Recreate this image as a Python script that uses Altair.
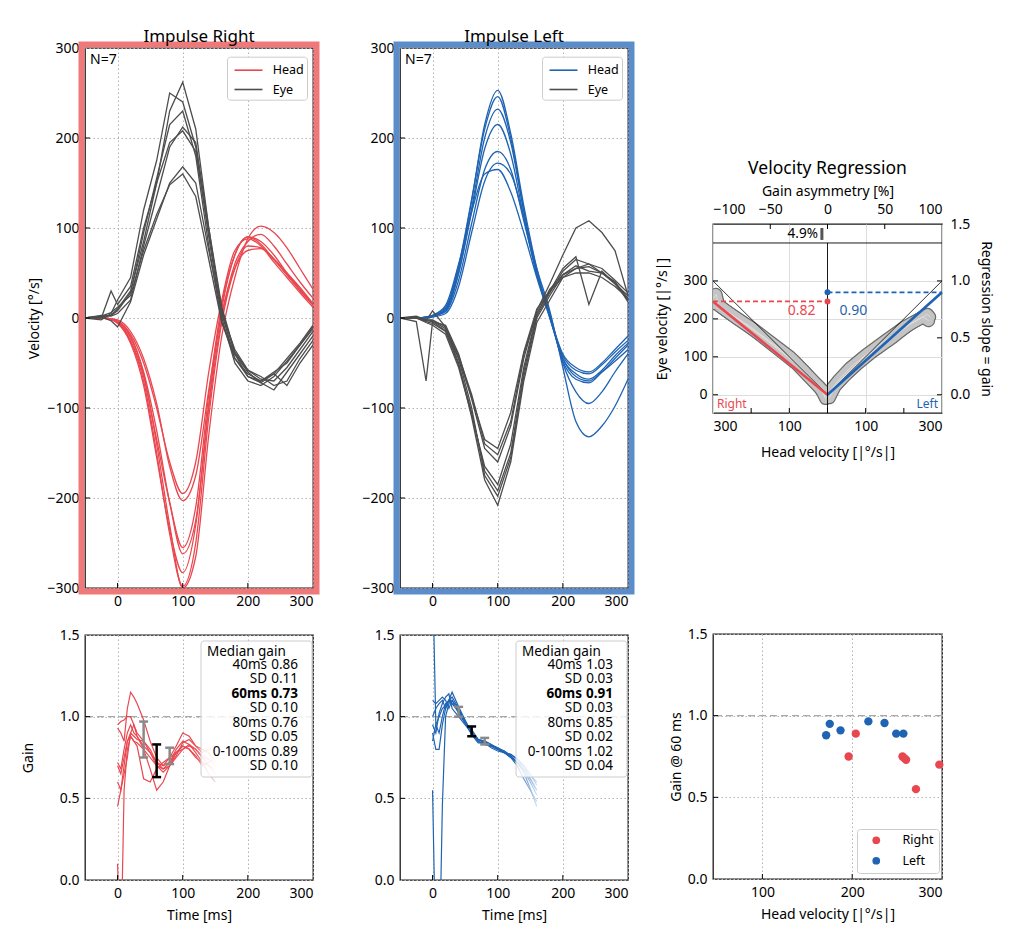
import altair as alt
import pandas as pd

# ---------------- data ----------------
T = [-50, -25, -10, 0, 20, 40, 60, 80, 100, 120, 140, 160, 180, 200, 220, 240, 260, 280, 300]

HEAD_R = [
    [0, 0, -1, -3, -18, -50, -100, -160, -195, -160, -60, 20, 75, 88, 80, 62, 45, 28, 12],
    [0, 0, -1, -2, -15, -45, -95, -165, -203, -175, -80, 5, 55, 75, 77, 65, 48, 30, 15],
    [0, 0, -1, -5, -25, -65, -135, -205, -255, -210, -85, 15, 70, 90, 82, 65, 48, 32, 15],
    [0, 0, -1, -4, -20, -60, -125, -205, -262, -225, -100, 0, 60, 85, 93, 80, 60, 40, 22],
    [0, 0, -2, -6, -28, -75, -155, -235, -283, -230, -95, 10, 70, 90, 85, 70, 50, 32, 14],
    [0, 0, -1, -5, -26, -70, -150, -240, -298, -250, -110, -5, 55, 80, 78, 66, 50, 34, 16],
    [0, 0, -1, -4, -22, -62, -140, -230, -300, -265, -130, -20, 45, 88, 102, 95, 78, 55, 32],
]
EYE_R = [
    [0, 2, 3, 10, 30, 85, 150, 230, 262, 210, 100, 5, -45, -65, -72, -62, -45, -28, -8],
    [0, -2, 5, 20, 45, 120, 175, 250, 240, 190, 90, 0, -50, -70, -75, -65, -48, -30, -10],
    [0, 1, 3, 8, 28, 95, 155, 215, 230, 180, 80, -5, -45, -62, -70, -60, -50, -30, -12],
    [0, 3, 2, 5, 20, 80, 135, 190, 212, 195, 100, 12, -38, -58, -68, -70, -55, -35, -15],
    [0, 0, 30, 15, 35, 100, 150, 195, 208, 185, 95, 10, -40, -60, -72, -80, -60, -40, -20],
    [0, 1, -3, -10, 18, 70, 110, 150, 168, 150, 75, 5, -35, -58, -65, -75, -70, -45, -25],
    [0, 2, 6, 12, 25, 75, 115, 148, 160, 135, 65, -5, -40, -65, -70, -62, -75, -50, -30],
]
HEAD_L = [
    [0, 0, 1, 2, 10, 55, 130, 215, 253, 205, 125, 55, 2, -40, -55, -60, -50, -35, -20],
    [0, 0, 1, 3, 12, 58, 132, 210, 246, 200, 120, 50, 0, -42, -58, -62, -52, -38, -25],
    [0, 0, 1, 2, 8, 50, 122, 200, 232, 195, 118, 50, 3, -45, -62, -68, -58, -42, -28],
    [0, 0, 1, 2, 10, 50, 118, 188, 215, 182, 112, 48, 2, -48, -68, -72, -60, -45, -30],
    [0, 0, 0, 2, 7, 42, 105, 165, 185, 165, 108, 50, 5, -50, -82, -95, -82, -60, -40],
    [0, 0, 0, 1, 5, 35, 95, 152, 172, 160, 112, 55, 8, -55, -115, -132, -120, -98, -68],
    [0, 0, 1, 3, 14, 60, 118, 160, 165, 140, 95, 45, 0, -45, -65, -70, -60, -48, -35],
]
EYE_L = [
    [0, 0, -2, -3, -12, -50, -110, -180, -208, -160, -70, -5, 20, 45, 55, 60, 50, 40, 22],
    [0, 2, -2, -2, -10, -45, -100, -175, -198, -155, -65, 0, 25, 48, 58, 52, 50, 38, 25],
    [0, 1, -4, -6, -15, -52, -105, -170, -192, -150, -60, 2, 28, 52, 65, 60, 55, 42, 28],
    [0, 0, -5, -8, -18, -55, -108, -165, -185, -140, -55, 5, 30, 55, 68, 15, 52, 38, 20],
    [0, 1, -3, -4, -8, -40, -90, -145, -160, -120, -45, 8, 38, 70, 100, 108, 95, 75, 25],
    [0, 0, -3, 8, -10, -42, -85, -140, -152, -115, -40, 5, 32, 48, 55, 57, 50, 40, 18],
    [0, -4, -70, -4, -14, -45, -88, -135, -145, -105, -38, 10, 30, 45, 50, 50, 45, 35, 22],
]

TG_R = [0, 5, 10, 15, 20, 25, 30, 40, 50, 60, 70, 80, 90, 100, 110, 120, 130, 140, 150]
GAIN_R = [
    [0.95, 0.97, 0.98, 1.0, 1.0, 0.95, 0.9, 0.85, 0.8, 0.72, 0.7, 0.75, 0.82, 0.9, 0.88, 0.82, 0.78, 0.8, 0.82],
    [0.93, 0.9, 0.85, 1.05, 1.15, 1.12, 1.08, 0.98, 0.85, 0.75, 0.7, 0.72, 0.8, 0.85, 0.83, 0.78, 0.72, 0.65, 0.6],
    [0.72, 0.68, 0.8, 0.9, 0.95, 0.9, 0.88, 0.8, 0.68, 0.55, 0.6, 0.7, 0.78, 0.82, 0.8, 0.76, 0.7, 0.72, 0.75],
    [0.6, 0.55, 0.7, 0.85, 0.88, 0.85, 0.82, 0.62, 0.6, 0.68, 0.72, 0.75, 0.78, 0.8, 0.82, 0.8, 0.75, 0.7, 0.68],
    [0.45, 0.55, 0.65, 0.75, 0.9, 0.95, 0.88, 0.82, 0.78, 0.72, 0.68, 0.7, 0.75, 0.8, 0.83, 0.8, 0.76, 0.74, 0.7],
    [0.1, -0.5, 0.55, 0.8, 0.88, 0.85, 0.84, 0.8, 0.75, 0.7, 0.68, 0.72, 0.78, 0.82, 0.8, 0.75, 0.72, 0.7, 0.65],
    [0.7, 0.65, 0.75, 0.85, 0.9, 0.88, 0.86, 0.85, 0.78, 0.7, 0.66, 0.7, 0.76, 0.84, 0.86, 0.82, 0.8, 0.78, 0.72],
]
TG_L = [0, 5, 10, 15, 20, 25, 30, 40, 50, 60, 70, 80, 90, 100, 110, 120, 130, 140, 150, 160]
GAIN_L = [
    [1.9, 0.95, 0.9, 1.0, 1.08, 1.1, 1.08, 1.03, 0.97, 0.9, 0.86, 0.84, 0.82, 0.8, 0.78, 0.76, 0.72, 0.68, 0.62, 0.55],
    [0.55, -0.5, -0.6, 0.45, 1.0, 1.08, 1.1, 1.05, 0.97, 0.9, 0.86, 0.84, 0.82, 0.8, 0.78, 0.75, 0.7, 0.62, 0.55, 0.48],
    [0.9, 0.8, 0.8, 0.95, 1.05, 1.1, 1.12, 1.05, 0.97, 0.91, 0.86, 0.85, 0.83, 0.81, 0.79, 0.76, 0.72, 0.7, 0.65, 0.58],
    [1.0, 1.05, 1.08, 1.1, 1.05, 1.1, 1.15, 1.06, 0.98, 0.9, 0.85, 0.83, 0.82, 0.81, 0.78, 0.77, 0.74, 0.7, 0.62, 0.55],
    [1.1, 1.08, 1.1, 1.12, 1.1, 1.05, 1.1, 1.02, 0.96, 0.89, 0.84, 0.84, 0.81, 0.79, 0.78, 0.75, 0.72, 0.66, 0.56, 0.45],
    [0.95, 0.9, 1.02, 1.08, 1.12, 1.14, 1.05, 1.0, 0.95, 0.9, 0.85, 0.83, 0.82, 0.8, 0.79, 0.76, 0.72, 0.67, 0.6, 0.52],
    [0.85, 0.95, 1.0, 1.05, 1.07, 1.1, 1.08, 1.04, 0.96, 0.92, 0.86, 0.85, 0.83, 0.8, 0.78, 0.77, 0.74, 0.7, 0.64, 0.6],
]

STAT_LABELS = ["40ms", "SD", "60ms", "SD", "80ms", "SD", "0-100ms", "SD"]
STAT_R = ["0.86", "0.11", "0.73", "0.10", "0.76", "0.05", "0.89", "0.10"]
STAT_L = ["1.03", "0.03", "0.91", "0.03", "0.85", "0.02", "1.02", "0.04"]
ERR_T = [40, 60, 80]

SC_R_HV = [196, 204, 256, 258, 260, 271, 297]
SC_R_G = [0.75, 0.89, 0.75, 0.74, 0.73, 0.55, 0.70]
SC_L_HV = [171, 175, 187, 218, 236, 249, 257]
SC_L_G = [0.88, 0.95, 0.91, 0.965, 0.955, 0.89, 0.89]

REG_GAIN_R = 0.82
REG_GAIN_L = 0.90
ASYM = -4.9

CLOUD_R_HEAD = [[3, 10, 30, 60, 100, 150, 200, 250, 285, 298, 292],
                [0, 15, 40, 80, 120, 170, 220, 270, 295, 300],
                [5, 20, 50, 90, 140, 190, 240, 280]]
CLOUD_R_EYE = [[-8, 5, 28, 62, 102, 140, 178, 210, 235, 255, 265],
               [2, 14, 38, 80, 112, 152, 190, 225, 245, 240],
               [-10, 20, 50, 92, 130, 168, 202, 232]]
CLOUD_L_HEAD = [[0, 10, 30, 60, 100, 150, 200, 240, 262, 268],
                [5, 20, 50, 90, 130, 180, 220, 250, 265],
                [2, 15, 40, 80, 120, 170, 210, 245]]
CLOUD_L_EYE = [[0, 15, 40, 72, 105, 142, 178, 200, 212, 205],
               [-8, 22, 55, 95, 122, 160, 188, 205, 195],
               [5, 18, 45, 82, 115, 150, 182, 202]]

# ---------------- style ----------------
FONT = "Noto Sans"
RED = "#e9474f"
RED_LIGHT = "#f8d0d2"
BLUE = "#1f63b3"
BLUE_LIGHT = "#cfdff2"
GRAY = "#4d4d4d"
GRID = "#b3b3b3"
RED_BORDER = "#ef7878"
BLUE_BORDER = "#5b8dcb"
MINUS = "replace(datum.label, '-', '\u2212')"
W = 228
H_TOP = 540
H_BOT = 245
TICK = 5
ONE = pd.DataFrame({"a": [0]})


def traces_df(times, traces, kind):
    rows = []
    for i, tr in enumerate(traces):
        for t, v in zip(times, tr):
            rows.append({"t": t, "v": v, "trial": f"{kind}{i}", "kind": kind})
    return pd.DataFrame(rows)


def label(text, x, y, align="left", size=13.5, weight="normal", color="black"):
    return alt.Chart(ONE).mark_text(
        text=text, align=align, baseline="middle", fontSize=size,
        fontWeight=weight, color=color, font=FONT
    ).encode(x=alt.value(x), y=alt.value(y))


def bottom_ticks(vals, field, h):
    return alt.Chart(pd.DataFrame({field: vals})).mark_rule(color="black", strokeWidth=1).encode(
        x=f"{field}:Q", y=alt.value(h), y2=alt.value(h - TICK))


def top_ticks(vals, field):
    return alt.Chart(pd.DataFrame({field: vals})).mark_rule(color="black", strokeWidth=1).encode(
        x=f"{field}:Q", y=alt.value(0), y2=alt.value(TICK))


def left_ticks(vals, field):
    return alt.Chart(pd.DataFrame({field: vals})).mark_rule(color="black", strokeWidth=1).encode(
        y=f"{field}:Q", x=alt.value(0), x2=alt.value(TICK))


def right_ticks(vals, field, w):
    return alt.Chart(pd.DataFrame({field: vals})).mark_rule(color="black", strokeWidth=1).encode(
        y=f"{field}:Q", x=alt.value(w - TICK), x2=alt.value(w))


def impulse_panel(title, head, eye, hcolor, bcolor, ytitle):
    hdf = traces_df(T, head, "Head")
    edf = traces_df(T, eye, "Eye")
    xsc = alt.Scale(domain=[-50, 300], nice=False, zero=False)
    ysc = alt.Scale(domain=[-300, 300], nice=False, zero=False)
    xax = alt.Axis(values=[0, 100, 200, 300], title=None, grid=True, gridColor=GRID,
                   gridDash=[1.5, 2.5], labelPadding=6)
    yax = alt.Axis(values=[-300, -200, -100, 0, 100, 200, 300], title=ytitle, titlePadding=5,
                   grid=True, gridColor=GRID, gridDash=[1.5, 2.5], labelPadding=6, labelExpr=MINUS)
    col = alt.Color("kind:N", scale=alt.Scale(domain=["Head", "Eye"], range=[hcolor, GRAY]),
                    legend=alt.Legend(title=None, orient="none", legendX=142, legendY=8.7,
                                      symbolType="M-1.45,0H1.45", symbolSize=372,
                                      symbolStrokeWidth=1.6, symbolOffset=8,
                                      labelFontSize=12.5, labelOffset=13.7, fillColor="white",
                                      strokeColor="#cccccc", padding=3, cornerRadius=3,
                                      rowPadding=2.3, labelFont=FONT))
    head_l = alt.Chart(hdf).mark_line(strokeWidth=1.3, interpolate="monotone", clip=True).encode(
        x=alt.X("t:Q", scale=xsc, axis=xax), y=alt.Y("v:Q", scale=ysc, axis=yax),
        color=col, detail="trial:N")
    eye_l = alt.Chart(edf).mark_line(strokeWidth=1.3, clip=True).encode(
        x="t:Q", y="v:Q", color=col, detail="trial:N")
    ticks_x = bottom_ticks([0, 100, 200], "t", H_TOP)
    ticks_y = left_ticks([-200, -100, 0, 100, 200], "v")
    border = alt.Chart(ONE).mark_rect(fillOpacity=0, stroke=bcolor, strokeWidth=6).encode(
        x=alt.value(-3.5), x2=alt.value(W + 3.5), y=alt.value(-3.5), y2=alt.value(H_TOP + 3.5))
    n = label("N=7", 5, 12, size=14)
    return alt.layer(head_l, eye_l, ticks_x, ticks_y, border, n).properties(
        width=W, height=H_TOP,
        title=alt.TitleParams(title, fontSize=17, fontWeight="normal", offset=-5, font=FONT))


def gain_panel(times, traces, color, light, stats, ytitle):
    df = traces_df(times, traces, "g")
    xsc = alt.Scale(domain=[-50, 300], nice=False, zero=False)
    ysc = alt.Scale(domain=[0, 1.5], nice=False, zero=False)
    xax = alt.Axis(values=[0, 100, 200, 300], title="Time [ms]", grid=True, gridColor=GRID,
                   gridDash=[1.5, 2.5], labelPadding=6, titlePadding=8)
    yax = alt.Axis(values=[0, 0.5, 1.0, 1.5], format=".1f", title=ytitle, titlePadding=24,
                   grid=True, gridColor=GRID, gridDash=[1.5, 2.5], labelPadding=6)
    grad = alt.Gradient(gradient="linear",
                        stops=[alt.GradientStop(color=color, offset=0),
                               alt.GradientStop(color=color, offset=0.78),
                               alt.GradientStop(color=light, offset=1)],
                        x1=0, x2=1, y1=0, y2=0)
    lines = alt.Chart(df).mark_line(color=grad, strokeWidth=1.2, clip=True).encode(
        x=alt.X("t:Q", scale=xsc, axis=xax), y=alt.Y("v:Q", scale=ysc, axis=yax), detail="trial:N")
    ref = alt.Chart(ONE).mark_rule(color="#a9a9a9", strokeDash=[7, 4], strokeWidth=1.2).encode(
        y=alt.datum(1.0))
    centers = [float(stats[0]), float(stats[2]), float(stats[4])]
    sds = [float(stats[1]), float(stats[3]), float(stats[5])]
    eb = pd.DataFrame({"t": ERR_T,
                       "lo": [c - s for c, s in zip(centers, sds)],
                       "hi": [c + s for c, s in zip(centers, sds)],
                       "col": ["#8a8a8a", "black", "#8a8a8a"]})
    bars = alt.Chart(eb).mark_rule(strokeWidth=2.5).encode(
        x="t:Q", y="lo:Q", y2="hi:Q", color=alt.Color("col:N", scale=None))
    cap_lo = alt.Chart(eb).mark_point(shape="stroke", size=80, strokeWidth=2.5, opacity=1).encode(
        x="t:Q", y="lo:Q", color=alt.Color("col:N", scale=None))
    cap_hi = alt.Chart(eb).mark_point(shape="stroke", size=80, strokeWidth=2.5, opacity=1).encode(
        x="t:Q", y="hi:Q", color=alt.Color("col:N", scale=None))
    ticks_x = bottom_ticks([0, 100, 200], "t", H_BOT)
    ticks_y = left_ticks([0.5, 1.0], "v")
    box = alt.Chart(ONE).mark_rect(fill="white", fillOpacity=0.82, stroke="#cccccc",
                                   strokeWidth=1, cornerRadius=3).encode(
        x=alt.value(116), x2=alt.value(227), y=alt.value(6), y2=alt.value(142))
    texts = [label("Median gain", 122, 17)]
    for i, (lab, val) in enumerate(zip(STAT_LABELS, stats)):
        wt = "bold" if i == 2 else "normal"
        y = 30 + 14.45 * i
        texts.append(label(lab, 182, y, align="right", weight=wt))
        texts.append(label(val, 213, y, align="right", weight=wt))
    return alt.layer(ref, lines, bars, cap_lo, cap_hi, ticks_x, ticks_y, box, *texts).properties(
        width=W, height=H_BOT)


def regression_panel():
    rows = []
    for i, (hs, es) in enumerate(zip(CLOUD_R_HEAD, CLOUD_R_EYE)):
        for h, e in zip(hs, es):
            rows.append({"x": -h, "y": e, "trial": f"r{i}"})
    for i, (hs, es) in enumerate(zip(CLOUD_L_HEAD, CLOUD_L_EYE)):
        for h, e in zip(hs, es):
            rows.append({"x": h, "y": e, "trial": f"l{i}"})
    cloud = pd.DataFrame(rows)
    xs = alt.Scale(domain=[-300, 300], nice=False, zero=False)
    ys = alt.Scale(domain=[-48, 450], nice=False, zero=False)
    xax = alt.Axis(values=[-300, -200, -100, 0, 100, 200, 300], labelExpr="'' + abs(datum.value)",
                   title="Head velocity [|°/s|]", labelPadding=6, titlePadding=12, orient="bottom")
    yax = alt.Axis(values=[0, 100, 200, 300], title="Eye velocity [|°/s|]", labelPadding=6,
                   titlePadding=13, orient="left")
    outline = alt.Chart(cloud).mark_line(color="#6b6b6b", strokeWidth=13, strokeCap="round",
                                         strokeJoin="round", clip=True).encode(
        x=alt.X("x:Q", scale=xs, axis=xax), y=alt.Y("y:Q", scale=ys, axis=yax), detail="trial:N")
    fill = alt.Chart(cloud).mark_line(color="#c4c4c4", strokeWidth=10.5, strokeCap="round",
                                      strokeJoin="round", clip=True).encode(
        x="x:Q", y="y:Q", detail="trial:N")
    thin = alt.Chart(cloud).mark_line(color="#dcdcdc", strokeWidth=1, clip=True).encode(
        x="x:Q", y="y:Q", detail="trial:N")
    diag = alt.Chart(pd.DataFrame({"x": [-300, 0, 300], "y": [300, 0, 300]})).mark_line(
        color="black", strokeWidth=0.8).encode(x="x:Q", y="y:Q")
    reg = pd.DataFrame({"x": [-300, 0, 0, 300],
                        "y": [REG_GAIN_R * 300, 0, 0, REG_GAIN_L * 300],
                        "side": ["R", "R", "L", "L"],
                        "col": [RED, RED, BLUE, BLUE]})
    reg_l = alt.Chart(reg).mark_line(strokeWidth=2.6).encode(
        x="x:Q", y="y:Q", detail="side:N", color=alt.Color("col:N", scale=None))
    vline = alt.Chart(ONE).mark_rule(color="black", strokeWidth=0.9).encode(
        x=alt.datum(0), y=alt.datum(-48), y2=alt.datum(400))
    hline = alt.Chart(ONE).mark_rule(color="black", strokeWidth=0.9).encode(y=alt.datum(400))
    dash = pd.DataFrame({"x": [-300, 0], "x2": [0, 300],
                         "y": [REG_GAIN_R * 300, REG_GAIN_L * 300], "col": [RED, BLUE],
                         "txt": [f"{REG_GAIN_R:.2f}", f"{REG_GAIN_L:.2f}"]})
    dash_l = alt.Chart(dash).mark_rule(strokeDash=[5, 3], strokeWidth=1.8).encode(
        x="x:Q", x2="x2:Q", y="y:Q", color=alt.Color("col:N", scale=None))
    dots = alt.Chart(dash).mark_circle(size=35, opacity=1).encode(
        x=alt.datum(0), y="y:Q", color=alt.Color("col:N", scale=None))
    t_r = alt.Chart(dash.iloc[[0]]).mark_text(align="right", baseline="middle", fontSize=14,
                                              color=RED, dx=-12, dy=10).encode(
        x=alt.datum(0), y="y:Q", text="txt:N")
    t_l = alt.Chart(dash.iloc[[1]]).mark_text(align="left", baseline="middle", fontSize=14,
                                              color=BLUE, dx=12, dy=19).encode(
        x=alt.datum(0), y="y:Q", text="txt:N")
    right_t = label("Right", 4, 180, size=12, color=RED)
    left_t = label("Left", 225, 180, align="right", size=12, color=BLUE)
    tb = bottom_ticks([-200, -100, 0, 100, 200], "x", 189)
    tl = left_ticks([0, 100, 200, 300], "y")
    main = alt.layer(outline, fill, thin, diag, reg_l, vline, hline, dash_l, dots, t_r, t_l,
                     right_t, left_t, tb, tl)

    asym = pd.DataFrame({"a": [ASYM], "g1": [1.36], "g2": [1.465],
                         "txt": [f"{abs(ASYM):.1f}%"]})
    axs = alt.Scale(domain=[-100, 100], nice=False, zero=False)
    gys = alt.Scale(domain=[-0.16, 1.5], nice=False, zero=False)
    tax = alt.Axis(values=[-100, -50, 0, 50, 100], orient="top", title="Gain asymmetry [%]",
                   labelPadding=8, titlePadding=4, labelExpr=MINUS)
    rax = alt.Axis(values=[0, 0.5, 1.0, 1.5], format=".1f", orient="right",
                   title="Regression slope = gain", labelPadding=8, titlePadding=9)
    a_bar = alt.Chart(asym).mark_rule(color="#555555", strokeWidth=3).encode(
        x=alt.X("a:Q", scale=axs, axis=tax), y=alt.Y("g1:Q", scale=gys, axis=rax), y2="g2:Q")
    a_txt = alt.Chart(asym).mark_text(align="right", baseline="middle", fontSize=13.5, dx=-4).encode(
        x="a:Q", y=alt.datum(1.41), text="txt:N")
    tt = top_ticks([-50, 0, 50], "a")
    tr = right_ticks([0, 0.5, 1.0], "g1", 229)
    second = alt.layer(a_bar, a_txt, tt, tr)
    return alt.layer(main, second).resolve_scale(x="independent", y="independent").properties(
        width=229, height=189,
        title=alt.TitleParams("Velocity Regression", fontSize=17.5, fontWeight="normal", offset=7,
                              font=FONT))


def scatter_panel():
    df = pd.DataFrame({"hv": SC_R_HV + SC_L_HV, "g": SC_R_G + SC_L_G,
                       "side": ["Right"] * len(SC_R_HV) + ["Left"] * len(SC_L_HV)})
    xsc = alt.Scale(domain=[45, 300], nice=False, zero=False)
    ysc = alt.Scale(domain=[0, 1.5], nice=False, zero=False)
    xax = alt.Axis(values=[100, 200, 300], title="Head velocity [|°/s|]", grid=True,
                   gridColor=GRID, gridDash=[1.5, 2.5], labelPadding=6, titlePadding=8)
    yax = alt.Axis(values=[0, 0.5, 1.0, 1.5], format=".1f", title="Gain @ 60 ms", grid=True,
                   gridColor=GRID, gridDash=[1.5, 2.5], labelPadding=6, titlePadding=4)
    ref = alt.Chart(ONE).mark_rule(color="#a9a9a9", strokeDash=[7, 4], strokeWidth=1.2).encode(
        y=alt.datum(1.0))
    pts = alt.Chart(df).mark_circle(size=70, opacity=1).encode(
        x=alt.X("hv:Q", scale=xsc, axis=xax), y=alt.Y("g:Q", scale=ysc, axis=yax),
        color=alt.Color("side:N", scale=alt.Scale(domain=["Right", "Left"], range=[RED, BLUE]),
                        legend=alt.Legend(title=None, orient="none", legendX=144, legendY=195,
                                          symbolType="circle", symbolSize=60, symbolOffset=8,
                                          labelFontSize=12.5, labelOffset=20, fillColor="white",
                                          strokeColor="#cccccc", padding=5, cornerRadius=3,
                                          rowPadding=7.5, symbolOpacity=1, labelFont=FONT)))
    tx = bottom_ticks([100, 200], "hv", H_BOT)
    ty = left_ticks([0.5, 1.0], "g")
    return alt.layer(ref, pts, tx, ty).properties(width=229, height=H_BOT)


spacer = alt.Chart(ONE).mark_point(opacity=0).encode(
    x=alt.X("a:Q", axis=None), y=alt.Y("a:Q", axis=None)
).properties(width=229, height=176, view=alt.ViewBackground(stroke="transparent"))

col1 = alt.vconcat(
    impulse_panel("Impulse Right", HEAD_R, EYE_R, RED, RED_BORDER, "Velocity [°/s]"),
    gain_panel(TG_R, GAIN_R, RED, RED_LIGHT, STAT_R, "Gain"),
    spacing=47, bounds="flush").resolve_scale(color="independent")
col2 = alt.vconcat(
    impulse_panel("Impulse Left", HEAD_L, EYE_L, BLUE, BLUE_BORDER, None),
    gain_panel(TG_L, GAIN_L, BLUE, BLUE_LIGHT, STAT_L, None),
    spacing=47, bounds="flush").resolve_scale(color="independent")
inner3 = alt.vconcat(regression_panel(), scatter_panel(), spacing=221,
                     bounds="flush").resolve_scale(color="independent")
col3 = alt.vconcat(spacer, inner3, spacing=0, bounds="flush").resolve_scale(color="independent")

left_pair = alt.hconcat(col1, col2, spacing=40).resolve_scale(color="independent")
chart = alt.hconcat(left_pair, col3, spacing=19).resolve_scale(
    color="independent"
).properties(
    padding={"left": 12, "top": 19, "right": 5, "bottom": 5}
).configure(font=FONT).configure_view(
    stroke="#1a1a1a", strokeWidth=1.3
).configure_axis(
    labelFontSize=14, titleFontSize=14, titleFontWeight="normal", labelColor="black",
    titleColor="black", domain=False, ticks=False, labelFont=FONT, titleFont=FONT
).configure_title(
    fontSize=17, fontWeight="normal", color="black", font=FONT
)

chart.save("out.html", embed_options={"renderer": "svg", "actions": False})
